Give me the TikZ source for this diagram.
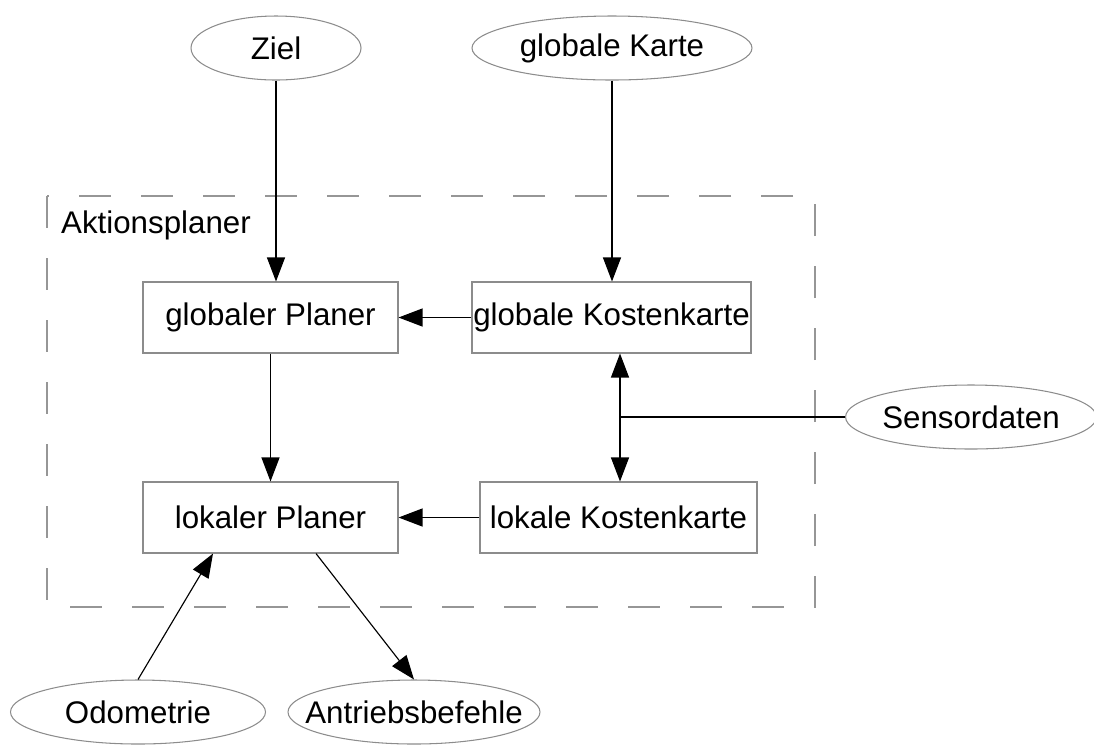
\documentclass[tikz,border=0pt]{standalone}
\usepackage{fontspec}
\setmainfont{Liberation Sans}
\usetikzlibrary{shapes.geometric,arrows.meta}
\definecolor{rand}{RGB}{140, 140, 140}
\definecolor{rahmen}{RGB}{150, 150, 150}

\begin{document}
\begin{tikzpicture}[
    font=\fontsize{17.8}{21}\selectfont,
    daten/.style={ellipse, draw=rand, line width=0.6pt, inner sep=0pt, minimum height=1.28cm},
    modul/.style={rectangle, draw=rand, line width=0.6pt, inner sep=0pt, minimum height=1.42cm},
    pfeil/.style={line width=0.65pt, -{Triangle[length=0.48cm, width=0.36cm]}},
    linie/.style={line width=0.65pt}
  ]
      \useasboundingbox (0, 0) rectangle (21.88, -14.88);
      % Rahmen
      \draw[color=rahmen, line width=0.6pt, dash pattern=on 0.64cm off 0.6cm] (0.94, -3.92) rectangle (16.3, -12.14);
      \node[anchor=west] (titel) at (1.1, -4.5) {Aktionsplaner};

      \node[daten, minimum width=3.4cm] (ziel) at (5.52, -0.96) {Ziel};
      \node[daten, minimum width=5.6cm] (karte) at (12.24, -0.96) {globale Karte};
      \node[daten, minimum width=4.88cm] (sensor) at (19.42, -8.34) {Sensordaten};
      \node[daten, minimum width=5.1cm] (odo) at (2.76, -14.24) {Odometrie};
      \node[daten, minimum width=5.04cm, inner xsep=-0.42cm] (antrieb) at (8.28, -14.24) {Antriebsbefehle};

      \node[modul, minimum width=5.1cm] (gplaner) at (5.41, -6.35) {globaler Planer};
      \node[modul, minimum width=5.58cm] (gkarte) at (12.23, -6.35) {globale Kostenkarte};
      \node[modul, minimum width=5.1cm] (lplaner) at (5.41, -10.35) {lokaler Planer};
      \node[modul, minimum width=5.54cm] (lkarte) at (12.37, -10.35) {lokale Kostenkarte};

      \coordinate (abzweig) at (12.4, -8.34);

      \draw[pfeil] (ziel.south) -- (ziel.south |- gplaner.north);
      \draw[pfeil] (karte.south) -- (karte.south |- gkarte.north);
      \draw[pfeil] (gkarte.west) -- (gplaner.east);
      \draw[pfeil] (gplaner.south) -- (lplaner.north);
      \draw[pfeil] (lkarte.west) -- (lplaner.east);
      \draw[linie] (sensor.west) -- (abzweig);
      \draw[pfeil] (abzweig) -- (abzweig |- gkarte.south);
      \draw[pfeil] (abzweig) -- (abzweig |- lkarte.north);
      \draw[pfeil] (odo.north) -- ([xshift=-1.15cm]lplaner.south);
      \draw[pfeil] ([xshift=0.91cm]lplaner.south) -- (antrieb.north);
    \end{tikzpicture}
\end{document}
